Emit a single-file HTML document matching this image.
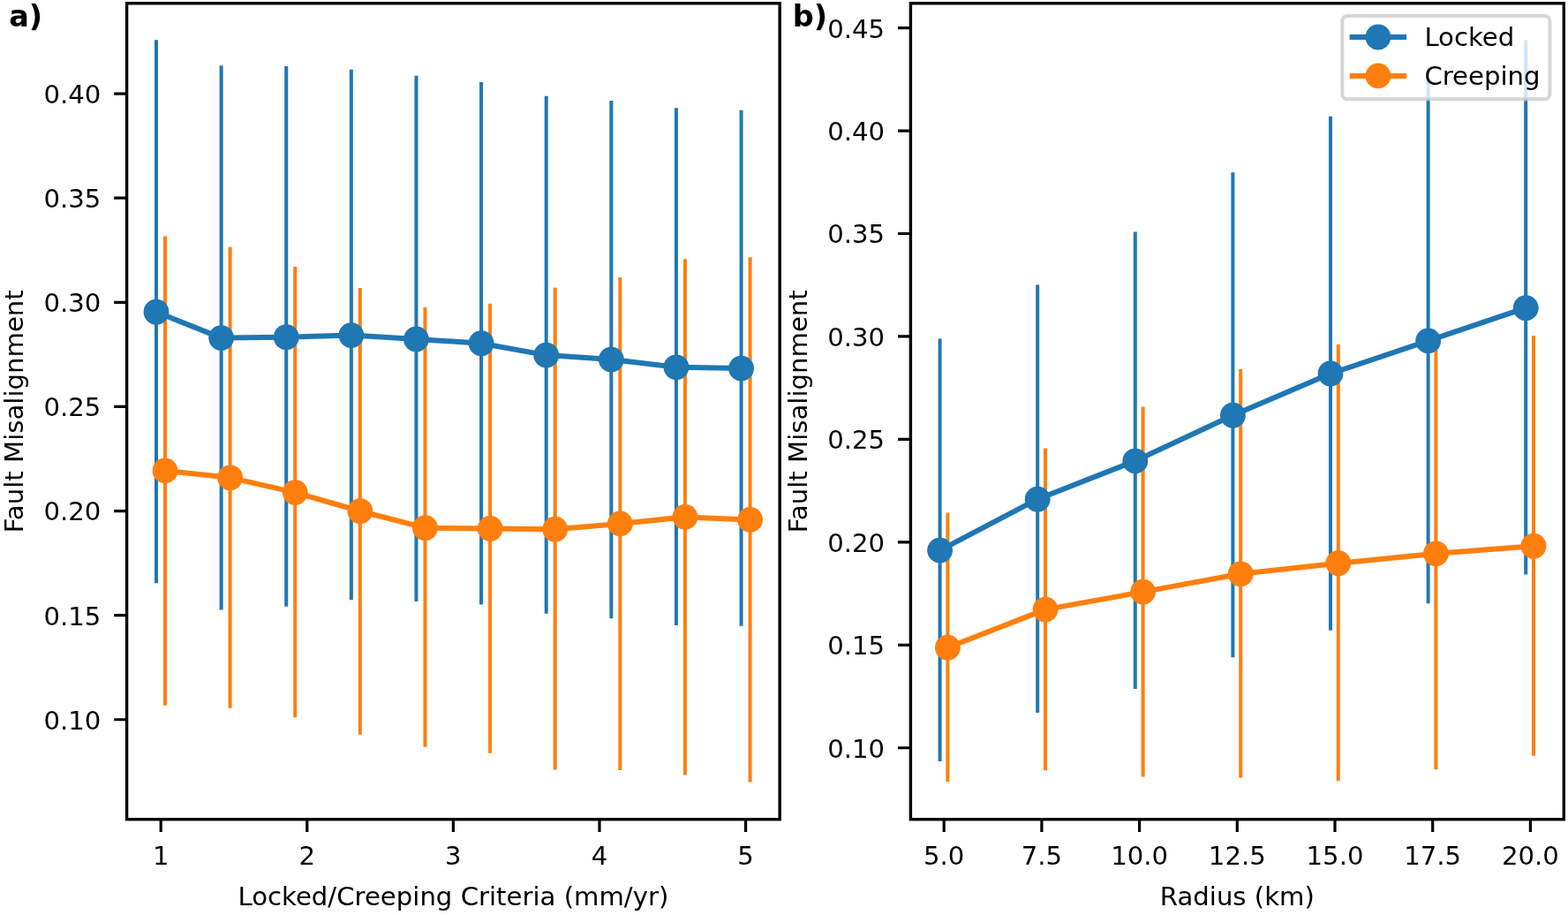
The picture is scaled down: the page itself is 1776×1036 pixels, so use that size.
<!DOCTYPE html>
<html><head><meta charset="utf-8"><title>Fault Misalignment</title>
<style>
html,body{margin:0;padding:0;background:#fff;}
body{width:1776px;height:1036px;overflow:hidden;}
svg{display:block;}
text{font-family:"DejaVu Sans","Liberation Sans",sans-serif;font-size:29.17px;fill:#000;}
</style></head>
<body>
<svg width="1776" height="1036" viewBox="0 0 1776 1036">
<rect x="0" y="0" width="1776" height="1036" fill="#fff"/>
<path d="M177 45.2V660.2M250.62 74.2V690.6M324.24 75V686.7M397.86 78.75V679.2M471.48 85.8V681M545.1 92.9V684.6M618.72 108.75V694.8M692.34 114V700.2M765.96 122.3V708.1M839.58 124.8V708.75" stroke="#1f77b4" stroke-width="4.0" fill="none"/>
<path d="M187 267.5V798.75M260.62 279.8V801.7M334.24 301.9V812.3M407.86 326V831.7M481.48 347.9V845.8M555.1 343.75V852.7M628.72 325.8V871.5M702.34 314V871.9M775.96 293.3V877.5M849.58 291.25V885.4" stroke="#ff7f0e" stroke-width="4.0" fill="none"/>
<polyline points="177,353.2 250.62,382.6 324.24,381.7 397.86,379.6 471.48,384 545.1,388.75 618.72,402.1 692.34,407.1 765.96,415.8 839.58,417.1" stroke="#1f77b4" stroke-width="6.0" fill="none" stroke-linejoin="round"/>
<circle cx="177" cy="353.2" r="14.4" fill="#1f77b4"/>
<circle cx="250.62" cy="382.6" r="14.4" fill="#1f77b4"/>
<circle cx="324.24" cy="381.7" r="14.4" fill="#1f77b4"/>
<circle cx="397.86" cy="379.6" r="14.4" fill="#1f77b4"/>
<circle cx="471.48" cy="384" r="14.4" fill="#1f77b4"/>
<circle cx="545.1" cy="388.75" r="14.4" fill="#1f77b4"/>
<circle cx="618.72" cy="402.1" r="14.4" fill="#1f77b4"/>
<circle cx="692.34" cy="407.1" r="14.4" fill="#1f77b4"/>
<circle cx="765.96" cy="415.8" r="14.4" fill="#1f77b4"/>
<circle cx="839.58" cy="417.1" r="14.4" fill="#1f77b4"/>
<polyline points="187,532.9 260.62,540.8 334.24,557.6 407.86,578.75 481.48,597.7 555.1,598.5 628.72,599.2 702.34,592.9 775.96,585.4 849.58,588.4" stroke="#ff7f0e" stroke-width="6.0" fill="none" stroke-linejoin="round"/>
<circle cx="187" cy="532.9" r="14.4" fill="#ff7f0e"/>
<circle cx="260.62" cy="540.8" r="14.4" fill="#ff7f0e"/>
<circle cx="334.24" cy="557.6" r="14.4" fill="#ff7f0e"/>
<circle cx="407.86" cy="578.75" r="14.4" fill="#ff7f0e"/>
<circle cx="481.48" cy="597.7" r="14.4" fill="#ff7f0e"/>
<circle cx="555.1" cy="598.5" r="14.4" fill="#ff7f0e"/>
<circle cx="628.72" cy="599.2" r="14.4" fill="#ff7f0e"/>
<circle cx="702.34" cy="592.9" r="14.4" fill="#ff7f0e"/>
<circle cx="775.96" cy="585.4" r="14.4" fill="#ff7f0e"/>
<circle cx="849.58" cy="588.4" r="14.4" fill="#ff7f0e"/>
<rect x="143.6" y="3.75" width="739.6" height="923.95" fill="none" stroke="#000" stroke-width="3.4" stroke-linejoin="miter"/>
<path d="M129.2 814.76H143.6M129.2 696.65H143.6M129.2 578.54H143.6M129.2 460.43H143.6M129.2 342.32H143.6M129.2 224.21H143.6M129.2 106.1H143.6M182.2 927.7V942.1M347.8 927.7V942.1M513.4 927.7V942.1M679 927.7V942.1M844.6 927.7V942.1" stroke="#000" stroke-width="3.2" fill="none"/>
<text x="114.3" y="825.66" text-anchor="end">0.10</text>
<text x="114.3" y="707.55" text-anchor="end">0.15</text>
<text x="114.3" y="589.44" text-anchor="end">0.20</text>
<text x="114.3" y="471.33" text-anchor="end">0.25</text>
<text x="114.3" y="353.22" text-anchor="end">0.30</text>
<text x="114.3" y="235.11" text-anchor="end">0.35</text>
<text x="114.3" y="117" text-anchor="end">0.40</text>
<text x="182.2" y="979.3" text-anchor="middle">1</text>
<text x="347.8" y="979.3" text-anchor="middle">2</text>
<text x="513.4" y="979.3" text-anchor="middle">3</text>
<text x="679" y="979.3" text-anchor="middle">4</text>
<text x="844.6" y="979.3" text-anchor="middle">5</text>
<text x="513.4" y="1025.1" text-anchor="middle">Locked/Creeping Criteria (mm/yr)</text>
<text transform="translate(25.7 465.73) rotate(-90)" text-anchor="middle">Fault Misalignment</text>
<path d="M1064.6 383.5V861.9M1175.2 322.5V807.1M1285.8 262.5V780M1396.4 195.2V744.2M1507 131.7V713.75M1617.6 92V683.2M1728.2 45.4V650.6" stroke="#1f77b4" stroke-width="4.0" fill="none"/>
<path d="M1073.4 580.4V885.2M1184 507.4V872.3M1294.6 460.4V879.6M1405.2 418V880.6M1515.8 389.8V884.3M1626.4 392V871.3M1737 380.3V855.8" stroke="#ff7f0e" stroke-width="4.0" fill="none"/>
<polyline points="1064.6,623.1 1175.2,565.2 1285.8,521.9 1396.4,470.2 1507,423 1617.6,385.9 1728.2,348.7" stroke="#1f77b4" stroke-width="6.0" fill="none" stroke-linejoin="round"/>
<circle cx="1064.6" cy="623.1" r="14.4" fill="#1f77b4"/>
<circle cx="1175.2" cy="565.2" r="14.4" fill="#1f77b4"/>
<circle cx="1285.8" cy="521.9" r="14.4" fill="#1f77b4"/>
<circle cx="1396.4" cy="470.2" r="14.4" fill="#1f77b4"/>
<circle cx="1507" cy="423" r="14.4" fill="#1f77b4"/>
<circle cx="1617.6" cy="385.9" r="14.4" fill="#1f77b4"/>
<circle cx="1728.2" cy="348.7" r="14.4" fill="#1f77b4"/>
<polyline points="1073.4,733.2 1184,690.1 1294.6,670.1 1405.2,649.8 1515.8,637.7 1626.4,626.8 1737,618.2" stroke="#ff7f0e" stroke-width="6.0" fill="none" stroke-linejoin="round"/>
<circle cx="1073.4" cy="733.2" r="14.4" fill="#ff7f0e"/>
<circle cx="1184" cy="690.1" r="14.4" fill="#ff7f0e"/>
<circle cx="1294.6" cy="670.1" r="14.4" fill="#ff7f0e"/>
<circle cx="1405.2" cy="649.8" r="14.4" fill="#ff7f0e"/>
<circle cx="1515.8" cy="637.7" r="14.4" fill="#ff7f0e"/>
<circle cx="1626.4" cy="626.8" r="14.4" fill="#ff7f0e"/>
<circle cx="1737" cy="618.2" r="14.4" fill="#ff7f0e"/>
<rect x="1031.4" y="3.75" width="739.9" height="923.95" fill="none" stroke="#000" stroke-width="3.4" stroke-linejoin="miter"/>
<path d="M1017 846.75H1031.4M1017 730.3H1031.4M1017 613.85H1031.4M1017 497.4H1031.4M1017 380.95H1031.4M1017 264.5H1031.4M1017 148.05H1031.4M1017 31.6H1031.4M1069.2 927.7V942.1M1179.9 927.7V942.1M1290.6 927.7V942.1M1401.3 927.7V942.1M1512 927.7V942.1M1622.7 927.7V942.1M1733.4 927.7V942.1" stroke="#000" stroke-width="3.2" fill="none"/>
<text x="1002.1" y="857.65" text-anchor="end">0.10</text>
<text x="1002.1" y="741.2" text-anchor="end">0.15</text>
<text x="1002.1" y="624.75" text-anchor="end">0.20</text>
<text x="1002.1" y="508.3" text-anchor="end">0.25</text>
<text x="1002.1" y="391.85" text-anchor="end">0.30</text>
<text x="1002.1" y="275.4" text-anchor="end">0.35</text>
<text x="1002.1" y="158.95" text-anchor="end">0.40</text>
<text x="1002.1" y="42.5" text-anchor="end">0.45</text>
<text x="1069.2" y="979.3" text-anchor="middle">5.0</text>
<text x="1179.9" y="979.3" text-anchor="middle">7.5</text>
<text x="1290.6" y="979.3" text-anchor="middle">10.0</text>
<text x="1401.3" y="979.3" text-anchor="middle">12.5</text>
<text x="1512" y="979.3" text-anchor="middle">15.0</text>
<text x="1622.7" y="979.3" text-anchor="middle">17.5</text>
<text x="1733.4" y="979.3" text-anchor="middle">20.0</text>
<text x="1401.35" y="1025.1" text-anchor="middle">Radius (km)</text>
<text transform="translate(913.5 465.73) rotate(-90)" text-anchor="middle">Fault Misalignment</text>
<rect x="1520.3" y="18" width="235.1" height="94.2" rx="5.8" ry="5.8" fill="#fff" fill-opacity="0.8" stroke="#ccc" stroke-opacity="0.8" stroke-width="4"/>
<path d="M1531.7 42H1590.1" stroke="#1f77b4" stroke-width="6.0" stroke-linecap="square"/>
<circle cx="1560.9" cy="42" r="14.4" fill="#1f77b4"/>
<text x="1613.4" y="52.3">Locked</text>
<path d="M1531.7 85.9H1590.1" stroke="#ff7f0e" stroke-width="6.0" stroke-linecap="square"/>
<circle cx="1560.9" cy="85.9" r="14.4" fill="#ff7f0e"/>
<text x="1613.4" y="95.8">Creeping</text>
<text x="10.2" y="30.1" style="font-weight:bold;font-size:33.6px">a)</text>
<text x="897.8" y="30.1" style="font-weight:bold;font-size:33.6px">b)</text>
</svg>
</body></html>
